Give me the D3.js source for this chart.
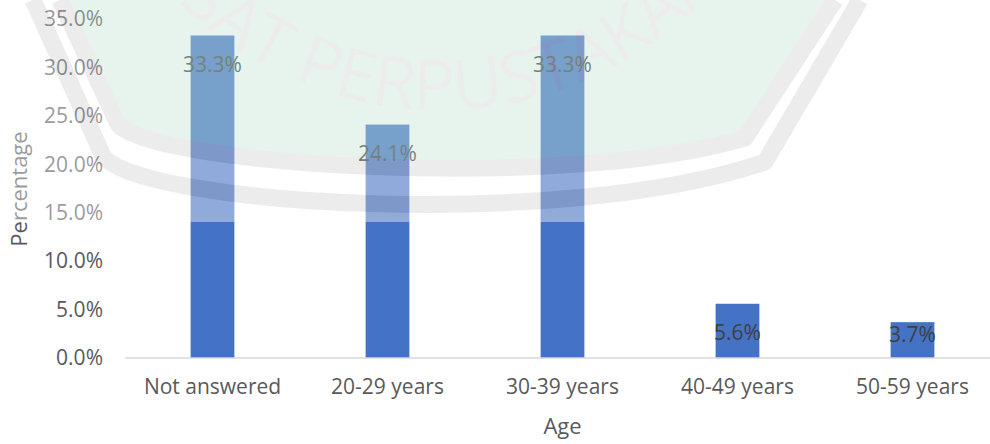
<!DOCTYPE html>
<html>
<head>
<meta charset="utf-8">
<script src="https://cdn.jsdelivr.net/npm/d3@7"></script>
<style>
  body { margin: 0; background: #fff; }
  svg { display: block; font-family: "Open Sans", "Noto Sans", sans-serif; }
</style>
</head>
<body>
<svg id="drawing_region"></svg>
<script>
// data
const categories = ["Not answered", "20-29 years", "30-39 years", "40-49 years", "50-59 years"];
const percents = [33.3, 24.1, 33.3, 5.6, 3.7];
const yTicks = [0, 5, 10, 15, 20, 25, 30, 35];

const data = categories.map((c, i) => ({ cat: c, v: percents[i] }));

const config = {
    width: 990,
    height: 444,
    left: 125,
    right: 1000,
    top: 19,
    bottom: 358
};

const svg = d3.select('#drawing_region')
    .attr('width', config.width)
    .attr('height', config.height);

const xscale = d3.scaleBand()
    .domain(categories)
    .range([config.left, config.right])
    .paddingInner(0.75)
    .paddingOuter(0.375);

const yscale = d3.scaleLinear()
    .domain([0, 35])
    .range([config.bottom, config.top]);

// y axis labels only (no line, no ticks)
const yaxis = d3.axisLeft(yscale)
    .tickValues(yTicks)
    .tickSize(0)
    .tickPadding(0)
    .tickFormat(d => d.toFixed(1) + '%');

const yaxis_group = svg.append('g')
    .attr('transform', 'translate(103,0)')
    .call(yaxis);
yaxis_group.select('.domain').remove();
yaxis_group.selectAll('text')
    .attr('fill', '#595959')
    .attr('font-size', '21px')
    .attr('font-family', '"Open Sans", sans-serif');

// bars
svg.append('g').selectAll('rect')
    .data(data)
    .enter()
    .append('rect')
    .attr('x', d => xscale(d.cat))
    .attr('y', d => yscale(d.v))
    .attr('width', xscale.bandwidth())
    .attr('height', d => yscale(0) - yscale(d.v))
    .attr('fill', '#4472C4');

// x axis
const xaxis = d3.axisBottom(xscale)
    .tickSize(0)
    .tickPadding(21);

const xaxis_group = svg.append('g')
    .attr('transform', `translate(0, ${config.bottom})`)
    .call(xaxis);
xaxis_group.select('.domain')
    .attr('stroke', '#D9D9D9')
    .attr('stroke-width', 1.5)
    .attr('d', `M${config.left},0H${config.right}`);
xaxis_group.selectAll('text')
    .attr('fill', '#595959')
    .attr('font-size', '21px')
    .attr('font-family', '"Open Sans", sans-serif');

// data labels
svg.append('g').selectAll('text')
    .data(data)
    .enter()
    .append('text')
    .attr('x', d => xscale(d.cat) + xscale.bandwidth() / 2)
    .attr('y', d => yscale(Math.max(d.v - 3, 2.4)))
    .attr('dy', '0.35em')
    .attr('text-anchor', 'middle')
    .attr('fill', '#404040')
    .attr('font-size', '21px')
    .text(d => d.v.toFixed(1) + '%');

// axis titles
svg.append('text')
    .attr('x', xscale(categories[2]) + xscale.bandwidth() / 2)
    .attr('y', 434)
    .attr('text-anchor', 'middle')
    .attr('fill', '#595959')
    .attr('font-size', '22px')
    .text('Age');

svg.append('text')
    .attr('transform', 'translate(27,189) rotate(-90)')
    .attr('text-anchor', 'middle')
    .attr('fill', '#595959')
    .attr('font-size', '22px')
    .text('Percentage');

// faded library watermark laid over the top of the page
const wm = svg.append('g')
    .attr('opacity', 0.4)
    .attr('pointer-events', 'none');

wm.append('rect')
    .attr('x', 0).attr('y', 0)
    .attr('width', config.width).attr('height', 222)
    .attr('fill', '#fff');

const inner = 'M60,0 L118,124 C150,165 560,192 745,138 L835,0';
const outer = 'M33,0 L103,156 C140,205 560,232 765,162 L860,0';

wm.append('path')
    .attr('d', inner + ' Z')
    .attr('fill', '#C5E6D7');

wm.selectAll('path.band')
    .data([inner, outer])
    .enter()
    .append('path')
    .attr('class', 'band')
    .attr('d', d => d)
    .attr('fill', 'none')
    .attr('stroke', '#D2D2D2')
    .attr('stroke-width', 17)
    .attr('stroke-linejoin', 'round');

wm.append('path')
    .attr('id', 'wm_arc')
    .attr('d', 'M68,-262 A372,372 0 0 0 812,-262')
    .attr('fill', 'none');

wm.append('text')
    .attr('font-size', '70px')
    .attr('fill', '#D2D2D2')
    .append('textPath')
    .attr('href', '#wm_arc')
    .attr('startOffset', 200)
    .text('PUSAT PERPUSTAKAAN');
</script>
</body>
</html>
